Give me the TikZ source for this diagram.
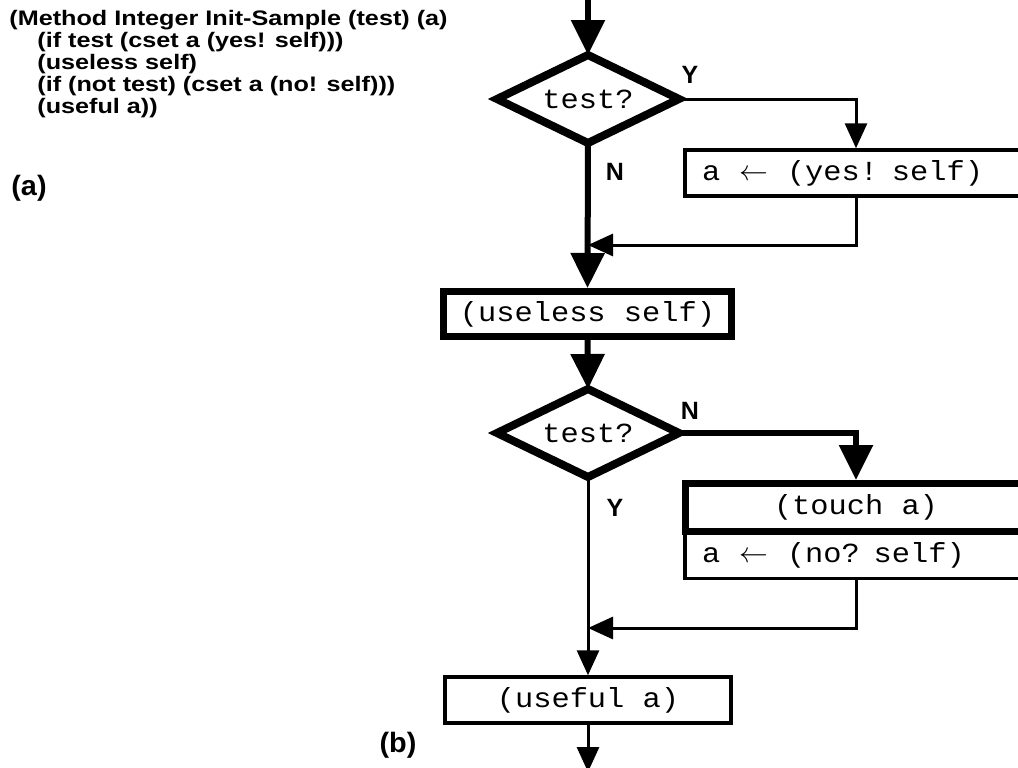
\documentclass[tikz,border=0pt]{standalone}
\usepackage{fontspec}
\setmainfont{Liberation Sans}
\setmonofont[FakeStretch=1.1]{Liberation Mono}
\newfontfamily\codefont[FakeStretch=1.2]{Liberation Sans}
\newfontfamily\partfont[FakeStretch=1.03]{Liberation Sans}
\usepackage{tikz}
\usetikzlibrary{arrows.meta, shapes.geometric}

\begin{document}
\begin{tikzpicture}[x=0.5pt, y=-0.5pt,
	thickline/.style={line width=3pt},
	thinline/.style={line width=1.5pt},
	bigarrow/.style={-{Triangle[length=17.5pt, width=16.5pt]}},
	smallarrow/.style={-{Triangle[length=12.5pt, width=11pt]}},
	decision/.style={diamond, draw, aspect=2.07, line width=4pt, minimum width=91pt, minimum height=44pt, inner sep=0pt, outer sep=0pt, font=\ttfamily\fontsize{13.8}{16}\selectfont},
	thickbox/.style={rectangle, draw, line width=3.5pt, inner sep=0pt, font=\ttfamily\fontsize{13.8}{16}\selectfont},
	thinbox/.style={rectangle, draw, line width=1.75pt, inner sep=0pt, font=\ttfamily\fontsize{13.8}{16}\selectfont},
	yn/.style={inner sep=0pt, font=\bfseries\fontsize{12.5}{14}\selectfont},
	code/.style={anchor=base west, inner sep=0pt, font=\codefont\bfseries\fontsize{10.5}{11}\selectfont},
	part/.style={inner sep=0pt, font=\partfont\bfseries\fontsize{14}{16}\selectfont}
]

\def \pw{1018}
\def \ph{767}
\def \xm{588} % main line
\def \xr{856} % right branch
\def \gets{\hspace{9.5pt}$\leftarrow$\hspace{9.5pt}}

\useasboundingbox (0,0) rectangle (\pw,\ph);
\clip (0,0) rectangle (\pw,\ph);

% (a) source text
\node[code] (line1) at (9,25)   {(Method Integer Init-Sample (test) (a)};
\node[code] (line2) at (37,47)  {(if test (cset a (yes! self)))};
\node[code] (line3) at (37,69)  {(useless self)};
\node[code] (line4) at (37,91)  {(if (not test) (cset a (no! self)))};
\node[code] (line5) at (37,113) {(useful a))};
\node[part] (parta) at (29,188) {(a)};
\node[part] (partb) at (398,745) {(b)};

% (b) flow graph
\coordinate (top) at (\xm,-10);
\coordinate (bot) at (\xm,772);
\coordinate (j1) at (\xm,245);
\coordinate (j2) at (\xm,628);

\node[decision] (test1) at (\xm,99) {test?};
\node[thinbox, text width=154pt, inner xsep=8.5pt, minimum height=23pt, align=left] (yesbox) at (\xr,173) {a\gets(yes! self)};
\node[thickbox, minimum width=144pt, minimum height=22.5pt] (useless) at (587.5,314) {(useless self)};
\node[decision] (test2) at (\xm,433) {test?};
\node[thinbox, text width=154pt, inner xsep=8.5pt, minimum height=23.25pt, align=left] (nobox) at (\xr,555) {a\gets(no? self)};
\node[thickbox, minimum width=171pt, minimum height=24pt] (touch) at (\xr,507.5) {(touch a)};
\node[thinbox, minimum width=143pt, minimum height=23pt] (useful) at (\xm,700) {(useful a)};

\node[yn] (y1) at (690,75)  {Y};
\node[yn] (n1) at (615,172) {N};
\node[yn] (n2) at (690,411) {N};
\node[yn] (y2) at (615,508) {Y};

\draw[thickline, bigarrow] (top) -- (test1.north);
\draw[thinline, smallarrow] (test1.east) -| (yesbox.north);
\draw[thinline, smallarrow] (yesbox.south) |- (j1);
\draw[thickline, bigarrow] (test1.south) -- (useless.north);
\draw[thickline, bigarrow] (useless.south) -- (test2.north);
\draw[thickline, bigarrow] (test2.east) -| (touch.north);
\draw[thinline, smallarrow] (nobox.south) |- (j2);
\draw[thinline, smallarrow] (test2.south) -- (useful.north);
\draw[thinline, smallarrow] (useful.south) -- (bot);

\end{tikzpicture}
\end{document}
